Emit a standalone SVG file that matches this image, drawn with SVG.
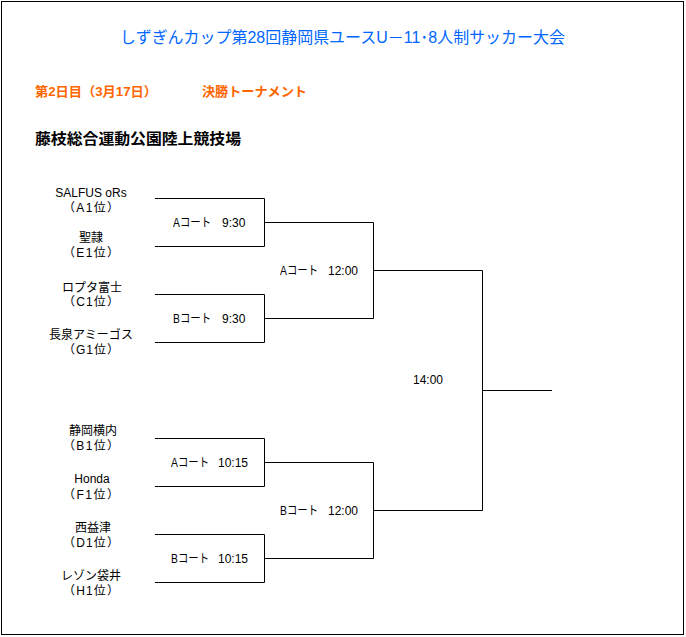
<svg xmlns="http://www.w3.org/2000/svg" width="686" height="637" viewBox="0 0 686 637">
<style>
text{font-family:"Liberation Sans","Noto Sans CJK JP",sans-serif;fill:#000;font-size:12px}
.title{font-size:16px;fill:#0066FF}
.sub{font-size:13px;fill:#FF6600;font-weight:bold}
.venue{font-size:15px;font-weight:bold}
.team{text-anchor:middle}
.end{text-anchor:end}
.mid{text-anchor:middle}
.conn path{fill:none;stroke:#000;stroke-width:1}
</style>
<rect x="1.5" y="1.5" width="682" height="633" fill="#fff" stroke="#000" stroke-width="1"/>
<g id="header">
<text class="title" x="120" y="43" textLength="445" lengthAdjust="spacingAndGlyphs">しずぎんカップ第28回静岡県ユースU－11･8人制サッカー大会</text>
<text class="sub" x="35" y="96" textLength="122" lengthAdjust="spacingAndGlyphs">第2日目（3月17日）</text>
<text class="sub" x="202" y="96" textLength="105" lengthAdjust="spacingAndGlyphs">決勝トーナメント</text>
<text class="venue" x="35" y="144" textLength="206" lengthAdjust="spacingAndGlyphs">藤枝総合運動公園陸上競技場</text>
</g>
<g id="teams">
<g id="team-a1"><text class="team" x="91" y="197">SALFUS oRs</text><text class="team" x="91" y="212" textLength="56">（A1位）</text></g>
<g id="team-e1"><text class="team" x="91" y="242">聖隷</text><text class="team" x="91" y="257" textLength="56">（E1位）</text></g>
<g id="team-c1"><text class="team" x="92" y="292">ロプタ富士</text><text class="team" x="91" y="306" textLength="56">（C1位）</text></g>
<g id="team-g1"><text class="team" x="91" y="339">長泉アミーゴス</text><text class="team" x="91" y="354" textLength="56">（G1位）</text></g>
<g id="team-b1"><text class="team" x="93" y="435">静岡横内</text><text class="team" x="91" y="450" textLength="56">（B1位）</text></g>
<g id="team-f1"><text class="team" x="92" y="483">Honda</text><text class="team" x="91" y="499" textLength="56">（F1位）</text></g>
<g id="team-d1"><text class="team" x="93" y="532">西益津</text><text class="team" x="91" y="547" textLength="56">（D1位）</text></g>
<g id="team-h1"><text class="team" x="91" y="580">レゾン袋井</text><text class="team" x="91" y="595" textLength="56">（H1位）</text></g>
</g>
<g id="matches">
<g id="match-1"><text x="173" y="227"><tspan x="173" textLength="38" lengthAdjust="spacingAndGlyphs">Aコート</tspan> <tspan x="222">9:30</tspan></text></g>
<g id="match-2"><text x="173" y="323"><tspan x="173" textLength="38" lengthAdjust="spacingAndGlyphs">Bコート</tspan> <tspan x="222">9:30</tspan></text></g>
<g id="match-3"><text x="171" y="467"><tspan x="171" textLength="38" lengthAdjust="spacingAndGlyphs">Aコート</tspan> <tspan x="218">10:15</tspan></text></g>
<g id="match-4"><text x="171" y="563"><tspan x="171" textLength="38" lengthAdjust="spacingAndGlyphs">Bコート</tspan> <tspan x="218">10:15</tspan></text></g>
<g id="semi-1"><text x="280" y="275"><tspan x="280" textLength="38" lengthAdjust="spacingAndGlyphs">Aコート</tspan> <tspan x="328">12:00</tspan></text></g>
<g id="semi-2"><text x="280" y="515"><tspan x="280" textLength="38" lengthAdjust="spacingAndGlyphs">Bコート</tspan> <tspan x="328">12:00</tspan></text></g>
<g id="final"><text class="mid" x="428" y="384">14:00</text></g>
</g>
<g id="connectors" class="conn">
<path d="M155 198.5H264.5V246.5H155"/>
<path d="M264.5 222.5H373.5"/>
<path d="M155 294.5H264.5V342.5H155"/>
<path d="M264.5 318.5H373.5"/>
<path d="M373.5 222.5V318.5"/>
<path d="M373.5 270.5H482.5"/>
<path d="M155 438.5H264.5V486.5H155"/>
<path d="M264.5 462.5H373.5"/>
<path d="M155 534.5H264.5V582.5H155"/>
<path d="M264.5 558.5H373.5"/>
<path d="M373.5 462.5V558.5"/>
<path d="M373.5 510.5H482.5"/>
<path d="M482.5 270.5V510.5"/>
<path d="M482.5 390.5H552"/>
</g>
</svg>
